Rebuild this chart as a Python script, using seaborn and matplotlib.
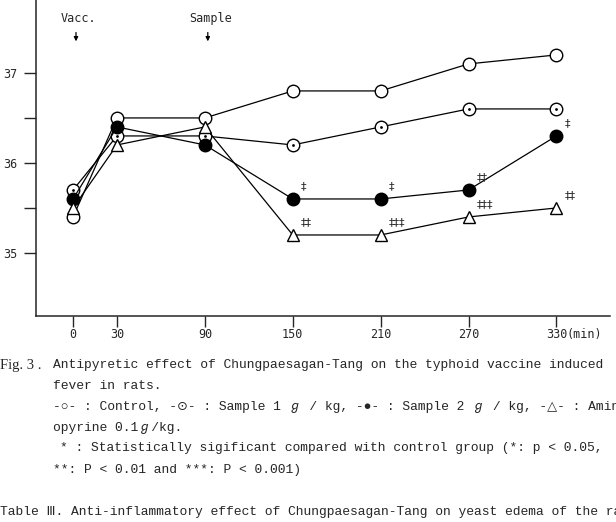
import numpy as np
import pandas as pd
import seaborn as sns
from matplotlib import pyplot as plt

# temperature (deg C) of rats after typhoid vaccine
times = [0, 30, 90, 150, 210, 270, 330]
control = [35.4, 36.5, 36.5, 36.8, 36.8, 37.1, 37.2]
sample1 = [35.7, 36.3, 36.3, 36.2, 36.4, 36.6, 36.6]
sample2 = [35.6, 36.4, 36.2, 35.6, 35.6, 35.7, 36.3]
aminopyrine = [35.5, 36.2, 36.4, 35.2, 35.2, 35.4, 35.5]

# significance marks (as printed in the scan)
sig_sample2 = ["", "", "", "‡", "‡", "‡‡", "‡"]
sig_aminopyrine = ["", "", "", "‡‡", "‡‡‡", "‡‡‡", "‡‡"]

y_ticks = [35, 35.5, 36, 36.5, 37]
y_tick_labels = ["35", "", "36", "", "37"]
x_tick_labels = ["0", "30", "90", "150", "210", "270", "330"]

caption_lines = [
    "fever in rats.",
    "-○- : Control, -⊙- : Sample 1 ℊ / kg, -●- : Sample 2 ℊ / kg, -△- : Amin",
    "opyrine 0.1ℊ/kg.",
]

sns.set_style("ticks")
plt.rcParams["font.family"] = ["DejaVu Sans Mono", "DejaVu Sans"]
cap_font = ["Liberation Mono", "DejaVu Sans", "Noto Sans CJK JP"]

fig = plt.figure(figsize=(6.16, 5.22), dpi=100)
ax = fig.add_axes([36 / 616, 206 / 522, 574 / 616, 316 / 522])

common = dict(color="black", linewidth=0.9, markeredgecolor="black",
              markeredgewidth=1.0, zorder=3)
sns.lineplot(x=times, y=control, marker="o", markersize=9,
             markerfacecolor="white", ax=ax, **common)
sns.lineplot(x=times, y=sample1, marker="o", markersize=9,
             markerfacecolor="white", ax=ax, **common)
sns.scatterplot(x=times, y=sample1, s=4, color="black", linewidth=0,
                ax=ax, zorder=4)
sns.lineplot(x=times, y=sample2, marker="o", markersize=9,
             markerfacecolor="black", ax=ax, **common)
sns.lineplot(x=times, y=aminopyrine, marker="^", markersize=9,
             markerfacecolor="white", ax=ax, **common)

for t, v, s in zip(times, sample2, sig_sample2):
    if s:
        ax.annotate(s, xy=(t, v), xytext=(6, 9), textcoords="offset points",
                    ha="left", va="center", fontsize=8,
                    fontfamily="DejaVu Sans")
for t, v, s in zip(times, aminopyrine, sig_aminopyrine):
    if s:
        ax.annotate(s, xy=(t, v), xytext=(6, 9), textcoords="offset points",
                    ha="left", va="center", fontsize=8,
                    fontfamily="DejaVu Sans")

# Vacc. / Sample arrows
for t, lab in [(0, "Vacc."), (90, "Sample")]:
    ax.annotate("", xy=(t + 2, 37.32), xytext=(t + 2, 37.48),
                arrowprops=dict(arrowstyle="-|>", color="black", lw=0.9,
                                mutation_scale=6))
    ax.text(t + 4, 37.6, lab, ha="center", va="center", fontsize=8.5)

ax.set_xlim(-25.3, 366.6)
ax.set_ylim(34.3, 37.81)
ax.set_xticks(times)
ax.set_xticklabels(x_tick_labels, fontsize=8.5)
ax.set_yticks(y_ticks)
ax.set_yticklabels(y_tick_labels, fontsize=8.5)
ax.tick_params(axis="y", length=8.5, width=1.0, pad=5)
ax.tick_params(axis="x", length=8, width=1.0, pad=1)
ax.annotate("(min)", xy=(330, 34.3), xytext=(7.5, -8.5),
            textcoords="offset points", ha="left", va="top", fontsize=8.5)
ax.set_xlabel("")
ax.set_ylabel("")
sns.despine(ax=ax)
for sp in ["left", "bottom"]:
    ax.spines[sp].set_linewidth(1.1)

# caption below the chart
def px(x, y):
    return x / 616, 1 - y / 522

fig.text(*px(0, 365), "Fig. 3 .", fontsize=10.5, va="center",
         family=["Liberation Serif", "DejaVu Serif"])
fig.text(*px(53, 365),
         "Antipyretic effect of Chungpaesagan-Tang on the typhoid vaccine induced",
         fontsize=9.4, va="center", family=cap_font)
for i, line in enumerate(caption_lines):
    fig.text(*px(53, 386 + 21 * i), line, fontsize=9.4, va="center",
             family=cap_font)
fig.text(*px(60, 448),
         "* : Statistically sigificant compared with control group (*: p < 0.05,",
         fontsize=9.4, va="center", family=cap_font)
fig.text(*px(53, 470), "**: P < 0.01 and ***: P < 0.001)",
         fontsize=9.4, va="center", family=cap_font)
fig.text(*px(0, 512),
         "Table Ⅲ. Anti-inflammatory effect of Chungpaesagan-Tang on yeast edema of the ra",
         fontsize=9.4, va="center", family=cap_font)

fig.savefig("out.png", dpi=100)
